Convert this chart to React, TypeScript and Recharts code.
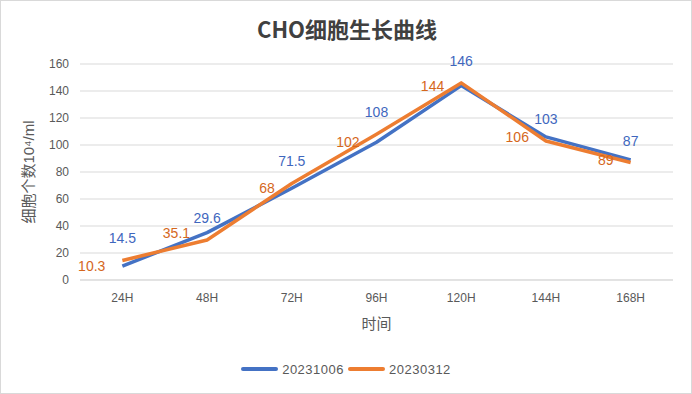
import React from 'react';
import { LineChart, Line, XAxis, YAxis, CartesianGrid, Legend, LabelList } from 'recharts';

const categories = ['24H', '48H', '72H', '96H', '120H', '144H', '168H'];
const series20231006 = [10.3, 35.1, 68, 102, 144, 106, 89];
const series20230312 = [14.5, 29.6, 71.5, 108, 146, 103, 87];
const yTicks = [0, 20, 40, 60, 80, 100, 120, 140, 160];
const seriesNames = ['20231006', '20230312'];

const data = categories.map((c, i) => ({
  time: c,
  s1: series20231006[i],
  s2: series20230312[i],
}));

const BLUE = '#4472C4';
const ORANGE = '#ED7D31';
const BLUE_TEXT = '#3F67BE';
const ORANGE_TEXT = '#D5671C';
const AXIS_TEXT = '#595959';
const FONT = "'Liberation Sans', 'Noto Sans CJK SC', sans-serif";

const YLabel = (props: any) => {
  const { viewBox } = props;
  const cx = viewBox.x + 28;
  const cy = viewBox.y + viewBox.height / 2;
  return (
    <text
      x={cx}
      y={cy}
      transform={`rotate(-90 ${cx} ${cy})`}
      textAnchor="middle"
      dominantBaseline="central"
      fill={AXIS_TEXT}
      fontSize={15}
      fontFamily={FONT}
    >
      细胞个数10⁴/ml
    </text>
  );
};

const XLabel = (props: any) => {
  const { viewBox } = props;
  const cx = viewBox.x + viewBox.width / 2;
  const cy = viewBox.y + 43;
  return (
    <text x={cx} y={cy} textAnchor="middle" dominantBaseline="central" fill={AXIS_TEXT} fontSize={15} fontFamily={FONT}>
      时间
    </text>
  );
};

const LegendContent = (props: any) => {
  const { payload } = props;
  const items = [...(payload || [])].sort(
    (a: any, b: any) => seriesNames.indexOf(a.value) - seriesNames.indexOf(b.value)
  );
  return (
    <div style={{ display: 'flex', justifyContent: 'center', alignItems: 'center', height: 20 }}>
      {items.map((p: any, i: number) => (
        <div key={i} style={{ display: 'flex', alignItems: 'center', marginRight: i === 0 ? 4 : 0 }}>
          <svg width={37} height={8} style={{ marginRight: 4 }}>
            <line x1={2} y1={4} x2={35} y2={4} stroke={p.color} strokeWidth={4} strokeLinecap="round" />
          </svg>
          <span style={{ fontSize: 13, color: AXIS_TEXT, letterSpacing: 0.5, fontFamily: FONT }}>{p.value}</span>
        </div>
      ))}
    </div>
  );
};

export default function App() {
  return (
    <div
      style={{
        position: 'absolute',
        left: 0,
        top: 0,
        width: 692,
        height: 394,
        boxSizing: 'border-box',
        border: '1px solid #D9D9D9',
        background: '#FFFFFF',
        fontFamily: FONT,
      }}
    >
      <div
        style={{
          position: 'absolute',
          left: 0,
          top: 12,
          width: 692,
          textAlign: 'center',
          fontSize: 22,
          fontWeight: 'bold',
          color: '#404040',
          fontFamily: "'Noto Sans CJK SC', sans-serif",
          lineHeight: '30px',
          zIndex: 2,
        }}
      >
        CHO细胞生长曲线
      </div>
      <div style={{ position: 'absolute', left: -1, top: -1 }}>
        <LineChart width={692} height={394} data={data} margin={{ top: 64, right: 19, left: 0, bottom: 15 }}>
          <CartesianGrid horizontal vertical={false} stroke="#D9D9D9" />
          <XAxis
            dataKey="time"
            scale="band"
            height={79}
            axisLine={{ stroke: '#D9D9D9' }}
            tickLine={false}
            tickSize={0}
            tickMargin={13}
            tick={{ fill: AXIS_TEXT, fontSize: 12 }}
            label={<XLabel />}
          />
          <YAxis
            width={80}
            domain={[0, 160]}
            ticks={yTicks}
            axisLine={false}
            tickLine={false}
            tickSize={0}
            tickMargin={11}
            tick={{ fill: AXIS_TEXT, fontSize: 12 }}
            label={<YLabel />}
          />
          <Legend
            verticalAlign="bottom"
            height={20}
            itemSorter={null as any}
            content={<LegendContent />}
            wrapperStyle={{ left: 0, width: 692 }}
          />
          <Line
            name={seriesNames[0]}
            dataKey="s1"
            type="linear"
            stroke={BLUE}
            strokeWidth={3.5}
            strokeLinejoin="round"
            dot={false}
            activeDot={false}
            isAnimationActive={false}
          >
            <LabelList dataKey="s1" position="left" offset={17} fill={ORANGE_TEXT} fontSize={14} />
          </Line>
          <Line
            name={seriesNames[1]}
            dataKey="s2"
            type="linear"
            stroke={ORANGE}
            strokeWidth={3.5}
            strokeLinejoin="round"
            dot={false}
            activeDot={false}
            isAnimationActive={false}
          >
            <LabelList dataKey="s2" position="top" offset={17} fill={BLUE_TEXT} fontSize={14} />
          </Line>
        </LineChart>
      </div>
    </div>
  );
}
